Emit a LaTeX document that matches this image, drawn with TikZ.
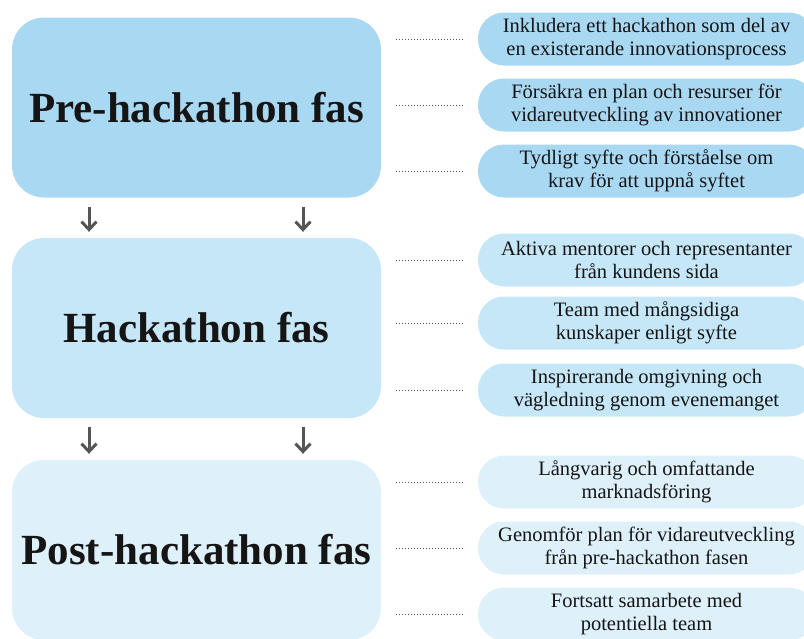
\documentclass[tikz,border=0pt]{standalone}
\usepackage{fontspec}
\setmainfont{Liberation Serif}
\usetikzlibrary{calc}
\usetikzlibrary{arrows.meta}
\definecolor{blaett}{HTML}{A9D8F2}
\definecolor{blatva}{HTML}{C6E7F7}
\definecolor{blatre}{HTML}{DEF0FA}
\definecolor{pilgra}{HTML}{555555}
\definecolor{textsv}{HTML}{151515}

\begin{document}
\begin{tikzpicture}[x=1pt,y=-1pt,
  fas/.style={rounded corners=32pt,minimum width=369pt,minimum height=180pt,inner sep=0pt,text=textsv,font=\fontsize{43}{48}\selectfont\bfseries},
  pill/.style={rounded corners=26pt,minimum width=337pt,minimum height=53pt,inner sep=0pt,align=center,text=textsv,font=\fontsize{20.5}{22.5}\selectfont},
  prick/.style={line width=0.9pt,dash pattern=on 0.9pt off 2.1pt,color=pilgra},
  pil/.style={-{Straight Barb[length=8pt,width=15pt]},line width=3pt,color=pilgra}]
  \useasboundingbox (0,0) rectangle (804,638);
  \clip (0,0) rectangle (804,638);
  % faserna
  \node[fas,fill=blaett] (pre) at (196.5,107.5) {Pre-hackathon fas};
  \node[fas,fill=blatva] (hack) at (196.5,328) {Hackathon fas};
  \node[fas,fill=blatre] (post) at (196.5,550) {Post-hackathon fas};
  % pre
  \node[pill,fill=blaett] (p1) at (646.5,39) {Inkludera ett hackathon som del av\\en existerande innovationsprocess};
  \node[pill,fill=blaett] (p2) at (646.5,105) {Försäkra en plan och resurser för\\vidareutveckling av innovationer};
  \node[pill,fill=blaett] (p3) at (646.5,171) {Tydligt syfte och förståelse om\\krav för att uppnå syftet};
  % hackathon
  \node[pill,fill=blatva] (h1) at (646.5,260) {Aktiva mentorer och representanter\\från kundens sida};
  \node[pill,fill=blatva] (h2) at (646.5,323) {Team med mångsidiga\\kunskaper enligt syfte};
  \node[pill,fill=blatva] (h3) at (646.5,390) {Inspirerande omgivning och\\vägledning genom evenemanget};
  % post
  \node[pill,fill=blatre] (q1) at (646.5,482) {Långvarig och omfattande\\marknadsföring};
  \node[pill,fill=blatre] (q2) at (646.5,548) {Genomför plan för vidareutveckling\\från pre-hackathon fasen};
  \node[pill,fill=blatre] (q3) at (646.5,614) {Fortsatt samarbete med\\potentiella team};
  \foreach \f/\p in {pre/p1,pre/p2,pre/p3,hack/h1,hack/h2,hack/h3,post/q1,post/q2,post/q3}
    \draw[prick] ($(\f.east |- \p.west)+(15,0)$) -- ($(\p.west)+(-15,0)$);
  \foreach \f/\t in {pre/hack,hack/post}
    \foreach \dx in {-107.5,106.5}
      \draw[pil] ($(\f.south)+(\dx,9)$) -- ($(\t.north)+(\dx,-6)$);
\end{tikzpicture}
\end{document}
